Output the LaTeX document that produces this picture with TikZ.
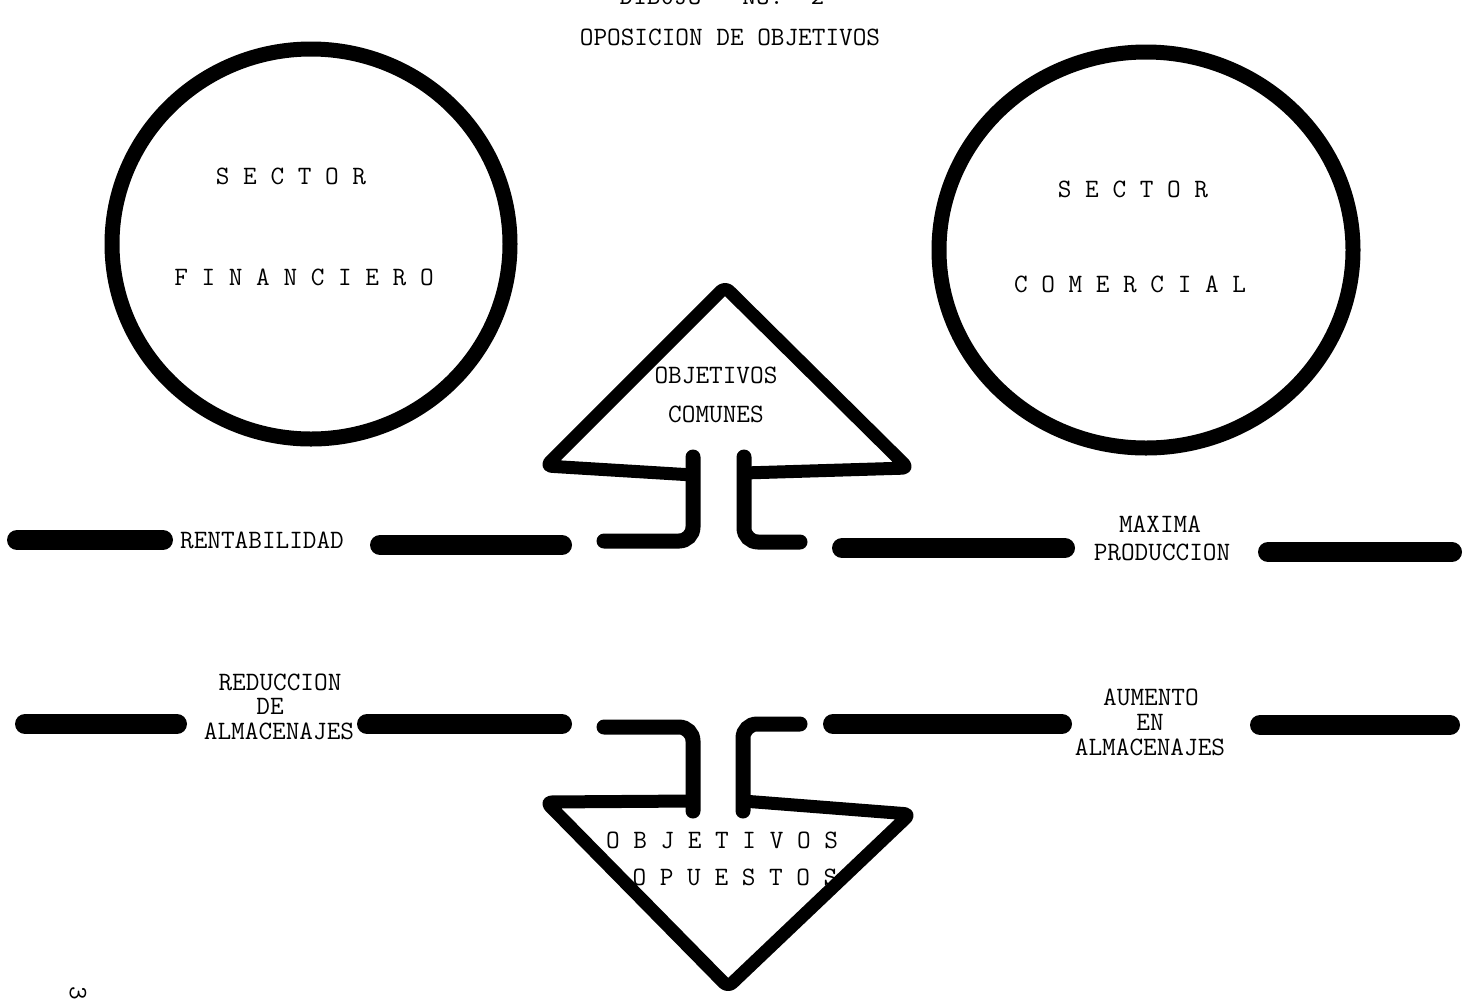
\documentclass[tikz,border=0pt]{standalone}
\usepackage{fontspec}
\begin{document}
\begin{tikzpicture}[x=1pt,y=-1pt,
  typed/.style={font=\fontsize{26.5}{30}\selectfont\ttfamily\addfontfeature{FakeBold=1.6}, inner sep=0pt, anchor=base},
  ring/.style={line width=15pt},
  bar/.style={line width=20pt, line cap=round},
  headline/.style={line width=13pt, line join=round, rounded corners=6pt},
  stem/.style={line width=15pt, line cap=round, rounded corners=14pt}]
\useasboundingbox (0,0) rectangle (1467,1005);

% heading (upper line runs off the sheet)
\node[typed] (num) at (722,4) {DIBUJO~~~NO.~~2};
\node[typed] (title) at (730,45) {OPOSICION DE OBJETIVOS};

% the two sectors
\draw[ring] (311,244) ellipse [x radius=199, y radius=195];
\draw[ring] (1146,250) ellipse [x radius=207, y radius=198];
\node[typed] (fin1) at (291,184) {S E C T O R};
\node[typed] (fin2) at (304,285) {F I N A N C I E R O};
\node[typed] (com1) at (1133,197) {S E C T O R};
\node[typed] (com2) at (1130,292) {C O M E R C I A L};

% upper arrow: common objectives
\draw[headline] (693,475) -- (546,466) -- (725,287) -- (908,468) -- (744,473);
\draw[stem] (693,457) -- (693,541) -- (604,541);
\draw[stem] (744,457) -- (744,542) -- (800,542);
\node[typed] (com-a) at (716,383) {OBJETIVOS};
\node[typed] (com-b) at (716,422) {COMUNES};

% upper row of bars and labels
\draw[bar] (17,540) -- (163,540);
\draw[bar] (380,545) -- (562,545);
\draw[bar] (842,548) -- (1065,548);
\draw[bar] (1268,552) -- (1452,552);
\node[typed] (rent) at (262,548) {RENTABILIDAD};
\node[typed] (max1) at (1160,532) {MAXIMA};
\node[typed] (max2) at (1162,560) {PRODUCCION};

% lower row of bars and labels
\draw[bar] (25,724) -- (177,724);
\draw[bar] (367,724) -- (562,724);
\draw[bar] (833,724) -- (1062,724);
\draw[bar] (1260,725) -- (1450,725);
\node[typed] (red1) at (280,690) {REDUCCION};
\node[typed] (red2) at (270,714) {DE};
\node[typed] (red3) at (279,739) {ALMACENAJES};
\node[typed] (aum1) at (1151,705) {AUMENTO};
\node[typed] (aum2) at (1150,730) {EN};
\node[typed] (aum3) at (1150,755) {ALMACENAJES};

% lower arrow: opposed objectives
\draw[stem] (604,727) -- (693,727) -- (693,811);
\draw[stem] (800,724) -- (743,724) -- (743,811);
\draw[headline] (693,801) -- (546,802) -- (728,987) -- (910,814) -- (743,801);
\node[typed] (opp1) at (722,848) {O B J E T I V O S};
\node[typed] (opp2) at (735,885) {O P U E S T O S};

% page number, turned sideways
\node[typed, anchor=center, rotate=-90] (page) at (78,993) {3};
\end{tikzpicture}
\end{document}
